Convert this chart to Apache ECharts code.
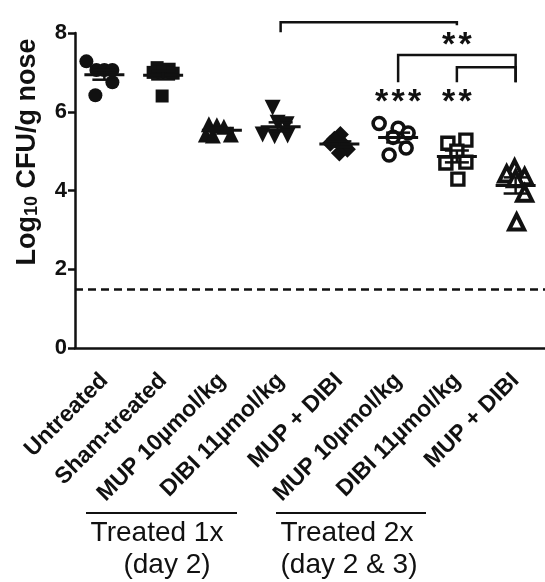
<!DOCTYPE html>
<html><head><meta charset="utf-8">
<script src="https://cdn.jsdelivr.net/npm/echarts@6/dist/echarts.min.js"></script>
<style>html,body{margin:0;padding:0;background:#fff}#c{width:545px;height:582px}</style>
</head><body><div id="c"></div>
<script>
// ---- data ----
const categories = ['Untreated','Sham-treated','MUP 10µmol/kg','DIBI 11µmol/kg','MUP + DIBI','MUP 10µmol/kg','DIBI 11µmol/kg','MUP + DIBI'];
const untreated = [7.28, 7.06, 7.06, 7.06, 6.75, 6.42];
const shamTreated = [7.12, 7.08, 7.0, 7.0, 6.98, 6.4];
const mup1x = [5.68, 5.66, 5.62, 5.42, 5.4, 5.42];
const dibi1x = [6.1, 5.72, 5.68, 5.42, 5.38, 5.4];
const combo1x = [5.42, 5.3, 5.2, 5.15, 5.05, 4.95];
const mup2x = [5.7, 5.58, 5.46, 5.35, 5.08, 4.9];
const dibi2x = [5.28, 5.2, 5.0, 4.72, 4.7, 4.29];
const combo2x = [4.57, 4.42, 4.35, 4.3, 3.93, 3.2];
const detectionLimit = 1.5;
const yTicks = [0, 2, 4, 6, 8];
const groupLabels = ['Treated 1x', '(day 2)', 'Treated 2x', '(day 2 & 3)'];
const sigStars = [2, 3, 2];

// ---- styling / layout ----
const FONT = '"Liberation Sans", Arial, sans-serif';
const groups = [untreated, shamTreated, mup1x, dibi1x, combo1x, mup2x, dibi2x, combo2x];
const jitter = [
  [-18, -8, 0, 8, 8, -9],
  [-6, 6, -10, 0, 10, -1],
  [-13, -5, 2, -16, -9, 9],
  [-8, -3, 6, -18, -6, 7],
  [1, -5, -9, 5, 8, 0],
  [-19, 0, 10, -5, 8, -9],
  [9, -9, 0, 9, -11, 1],
  [-1, -9, 9, 0, 9, 1]
];
const triDown = 'path://M0,0 L10,0 L5,9 Z';
const symbolStyles = [
  {symbol:'circle', size:14, fill:'#111', bw:0},
  {symbol:'rect', size:13, fill:'#111', bw:0},
  {symbol:'triangle', size:16, fill:'#111', bw:0},
  {symbol:triDown, size:16, fill:'#111', bw:0},
  {symbol:'diamond', size:17, fill:'#111', bw:0},
  {symbol:'circle', size:12, fill:'#fff', bw:3.6},
  {symbol:'rect', size:12, fill:'#fff', bw:3.4},
  {symbol:'triangle', size:15, fill:'#fff', bw:4}
];

function mean(a){return a.reduce((s,v)=>s+v,0)/a.length;}
function sem(a){const m=mean(a);const sd=Math.sqrt(a.reduce((s,v)=>s+(v-m)*(v-m),0)/(a.length-1));return sd/Math.sqrt(a.length);}

const series = groups.map((vals, gi) => {
  const st = symbolStyles[gi];
  return {
    type:'scatter', z:3,
    symbol: st.symbol, symbolSize: st.size,
    itemStyle:{color:st.fill, borderColor:'#111', borderWidth:st.bw, opacity:1},
    data: vals.map((v, k) => ({value:[gi, v], symbolOffset:[jitter[gi][k], 0]})),
    silent:true
  };
});

// mean + SEM
series.push({
  type:'custom', z:5, silent:true,
  data: groups.map((vals, gi) => [gi, mean(vals), sem(vals)]),
  renderItem: function(params, api){
    const i = api.value(0), m = api.value(1), s = api.value(2);
    const pm = api.coord([i, m]), pu = api.coord([i, m + s]), pl = api.coord([i, m - s]);
    const st = {stroke:'#111', lineWidth:3};
    return {type:'group', children:[
      {type:'line', shape:{x1:pm[0]-20, y1:pm[1], x2:pm[0]+20, y2:pm[1]}, style:st},
      {type:'line', shape:{x1:pu[0], y1:pu[1], x2:pl[0], y2:pl[1]}, style:{stroke:'#111', lineWidth:2.5}},
      {type:'line', shape:{x1:pu[0]-12, y1:pu[1], x2:pu[0]+12, y2:pu[1]}, style:{stroke:'#111', lineWidth:2.5}},
      {type:'line', shape:{x1:pl[0]-12, y1:pl[1], x2:pl[0]+12, y2:pl[1]}, style:{stroke:'#111', lineWidth:2.5}}
    ]};
  }
});

// detection limit
series.push({
  type:'line', data:[], silent:true,
  markLine:{symbol:'none', silent:true, label:{show:false},
    lineStyle:{color:'#111', width:2.5, type:[8,5]},
    data:[{yAxis:detectionLimit}]}
});

// significance brackets: [fromCat, toCat, yTop, yLeftEnd, yRightEnd]
const brackets = [[3, 6, 8.27, 8.02, 8.2], [5, 7, 7.44, 6.75, 6.75], [6, 7, 7.13, 6.75, 6.75]];
series.push({
  type:'custom', z:6, silent:true, clip:false,
  data: brackets,
  encode:{x:[0,1], y:[2,3,4]},
  renderItem: function(params, api){
    const a = api.value(0), b = api.value(1), t = api.value(2), yl = api.value(3), yr = api.value(4);
    const pa = api.coord([a, t]), pb = api.coord([b, t]);
    const pal = api.coord([a, yl]), pbr = api.coord([b, yr]);
    const st = {stroke:'#111', lineWidth:2.5, fill:null};
    return {type:'polyline', shape:{points:[[pal[0],pal[1]],[pa[0],pa[1]],[pb[0],pb[1]],[pbr[0],pbr[1]]]}, style:st};
  }
});
// significance labels: [xCat, y]
const sigPos = [[6, 7.92], [5, 6.47], [6, 6.47]];
series.push({
  type:'custom', z:6, silent:true, clip:false,
  data: sigPos,
  renderItem: function(params, api){
    const p = api.coord([api.value(0), api.value(1)]);
    const n = sigStars[params.dataIndex], pitch = 16.5;
    const kids = [];
    for (let k = 0; k < n; k++) {
      kids.push({type:'text', x:p[0] + (k - (n-1)/2) * pitch, y:p[1] + 9, style:{text:'*', fill:'#111',
        font:'bold 34px ' + FONT, align:'center', verticalAlign:'middle'}});
    }
    return {type:'group', children:kids};
  }
});

const chart = echarts.init(document.getElementById('c'), null, {renderer:'canvas'});
chart.setOption({
  animation:false,
  backgroundColor:'#fff',
  grid:{left:75, top:33, width:475, height:315, containLabel:false},
  xAxis:{type:'category', data:categories, boundaryGap:true,
    axisLine:{lineStyle:{color:'#111', width:2.5}},
    axisTick:{alignWithLabel:true, length:7, lineStyle:{color:'#111', width:2.5}},
    axisLabel:{rotate:45, interval:0, margin:29, color:'#111', fontWeight:'bold', fontSize:23, fontFamily:FONT},
    splitLine:{show:false}},
  yAxis:{type:'value', min:yTicks[0], max:yTicks[yTicks.length-1], interval:2,
    axisLine:{show:true, lineStyle:{color:'#111', width:2.5}},
    axisTick:{show:true, length:7, lineStyle:{color:'#111', width:2.5}},
    axisLabel:{margin:8, color:'#111', fontWeight:'bold', fontSize:22, fontFamily:FONT},
    splitLine:{show:false}},
  series: series,
  graphic:[
    {type:'text', x:28, y:152, rotation:Math.PI/2, style:{
      text:'Log{sub|10} CFU/g nose', fill:'#111', align:'center', verticalAlign:'middle',
      font:'bold 27px ' + FONT,
      rich:{sub:{font:'bold 18px ' + FONT, fill:'#111', verticalAlign:'bottom', padding:[9,0,0,0]}}}},
    {type:'line', shape:{x1:86, y1:513, x2:237, y2:513}, style:{stroke:'#111', lineWidth:2}},
    {type:'line', shape:{x1:276, y1:513, x2:426, y2:513}, style:{stroke:'#111', lineWidth:2}},
    {type:'text', x:157, y:533, style:{text:groupLabels[0], fill:'#111', align:'center', verticalAlign:'middle', font:'28px ' + FONT}},
    {type:'text', x:167, y:565, style:{text:groupLabels[1], fill:'#111', align:'center', verticalAlign:'middle', font:'28px ' + FONT}},
    {type:'text', x:347, y:533, style:{text:groupLabels[2], fill:'#111', align:'center', verticalAlign:'middle', font:'28px ' + FONT}},
    {type:'text', x:349, y:565, style:{text:groupLabels[3], fill:'#111', align:'center', verticalAlign:'middle', font:'28px ' + FONT}}
  ]
});
</script></body></html>
